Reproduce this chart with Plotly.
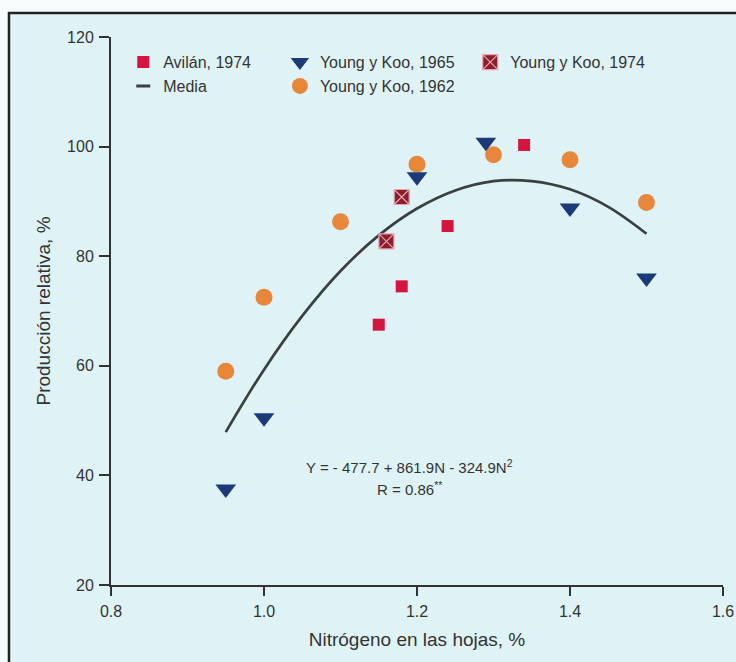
import plotly.graph_objects as go

# Data
avilan_x = [1.15, 1.18, 1.24, 1.34]
avilan_y = [67.5, 74.5, 85.5, 100.3]

ykoo65_x = [0.95, 1.0, 1.2, 1.29, 1.4, 1.5]
ykoo65_y = [37.5, 50.5, 94.5, 100.8, 88.8, 76.0]

ykoo74_x = [1.16, 1.18]
ykoo74_y = [82.7, 90.8]

ykoo62_x = [0.95, 1.0, 1.1, 1.2, 1.3, 1.4, 1.5]
ykoo62_y = [59.0, 72.5, 86.3, 96.8, 98.5, 97.6, 89.8]

# "Media" curve
media_x = [0.95, 1.0, 1.05, 1.1, 1.15, 1.2, 1.25, 1.3, 1.35, 1.4, 1.45, 1.5]
media_y = [47.9, 59.3, 69.1, 77.3, 83.8, 88.7, 92.0, 93.7, 93.7, 92.2, 89.0, 84.1]

x_ticks = [0.8, 1.0, 1.2, 1.4, 1.6]
x_labels = ["0.8", "1.0", "1.2", "1.4", "1.6"]
y_ticks = [20, 40, 60, 80, 100, 120]

BG = "#dff3f6"
EDGE = "#f6fbfc"
TXT = "#333333"
FONT = "Liberation Sans"

fig = go.Figure()

fig.add_trace(go.Scatter(
    x=media_x, y=media_y, mode="lines", line=dict(color="#3b3f3f", width=2.7, shape="spline"),
    showlegend=False, legendgroup="media"))

fig.add_trace(go.Scatter(
    x=ykoo62_x, y=ykoo62_y, mode="markers", name="Young y Koo, 1962", legend="legend2",
    marker=dict(symbol="circle", size=17, color="#e8873a", line=dict(width=0))))

fig.add_trace(go.Scatter(
    x=ykoo65_x, y=ykoo65_y, mode="markers", name="Young y Koo, 1965", legend="legend2",
    marker=dict(symbol="triangle-down", size=18, color="#1b3a78", line=dict(width=0))))

fig.add_trace(go.Scatter(
    x=avilan_x, y=avilan_y, mode="markers", name="Avilán, 1974", legend="legend",
    marker=dict(symbol="square", size=12, color="#d4163e", line=dict(width=0))))

fig.add_trace(go.Scatter(
    x=ykoo74_x, y=ykoo74_y, mode="markers", name="Young y Koo, 1974", legend="legend3",
    marker=dict(symbol="square-x", size=15, color="#8a1d2e", line=dict(width=1.2, color="#e9a3ad"))))

fig.add_trace(go.Scatter(
    x=[None], y=[None], mode="markers", name="Media", legend="legend", legendgroup="media",
    marker=dict(symbol="line-ew", size=10, color="#3b3f3f", line=dict(width=3, color="#3b3f3f"))))

legend_common = dict(orientation="v", yanchor="top", xanchor="left", bgcolor="rgba(0,0,0,0)",
                     font=dict(family=FONT, size=16, color=TXT), tracegroupgap=0,
                     itemclick=False)

fig.update_layout(
    width=736, height=662,
    paper_bgcolor=BG, plot_bgcolor=BG,
    margin=dict(l=111, r=13, t=37, b=77, autoexpand=False),
    font=dict(family=FONT, color=TXT, size=16),
    legend=dict(x=0.02, y=0.985, traceorder="normal", **legend_common),
    legend2=dict(x=0.276, y=0.985, traceorder="reversed", **legend_common),
    legend3=dict(x=0.587, y=0.985, traceorder="normal", **legend_common),
    xaxis=dict(range=[0.8, 1.6], tickvals=x_ticks, ticktext=x_labels, showgrid=False, zeroline=False,
               showline=True, linecolor="#333", linewidth=2, ticks="outside", ticklen=9, tickwidth=2,
               tickcolor="#333", tickfont=dict(size=16, color=TXT), automargin=False,
               ticklabelstandoff=2,
               title=dict(text="Nitrógeno en las hojas, %", font=dict(size=19, color=TXT), standoff=13)),
    yaxis=dict(range=[20, 120], tickvals=y_ticks, showgrid=False, zeroline=False,
               showline=True, linecolor="#333", linewidth=2, ticks="outside", ticklen=10, tickwidth=2,
               tickcolor="#333", tickfont=dict(size=16, color=TXT), automargin=False,
               ticklabelstandoff=2,
               title=dict(text="Producción relativa, %", font=dict(size=19, color=TXT), standoff=11)),
)

fig.add_annotation(xref="x", yref="y", x=1.19, y=41.6, text="Y = - 477.7 + 861.9N - 324.9N<sup>2</sup>",
                   showarrow=False, font=dict(size=15, color=TXT, family=FONT))
fig.add_annotation(xref="x", yref="y", x=1.19, y=37.6, text="R = 0.86<sup>**</sup>",
                   showarrow=False, font=dict(size=15, color=TXT, family=FONT))

# pale strips outside the scanned frame, then the frame itself
fig.add_shape(type="rect", xref="paper", yref="paper", x0=-0.25, x1=-0.1667, y0=-0.3, y1=1.2,
              line=dict(width=0), fillcolor=EDGE, layer="below")
fig.add_shape(type="rect", xref="paper", yref="paper", x0=-0.25, x1=1.2, y0=1.0438, y1=1.2,
              line=dict(width=0), fillcolor=EDGE, layer="below")
fig.add_shape(type="rect", xref="paper", yref="paper", x0=-0.1667, x1=1.2, y0=-0.3, y1=1.0438,
              line=dict(color="#222", width=2.5), fillcolor="rgba(0,0,0,0)", layer="below")

fig.write_html("out.html", config={"displayModeBar": False},
               post_script="document.body.style.margin='0';document.body.style.overflow='hidden';")
